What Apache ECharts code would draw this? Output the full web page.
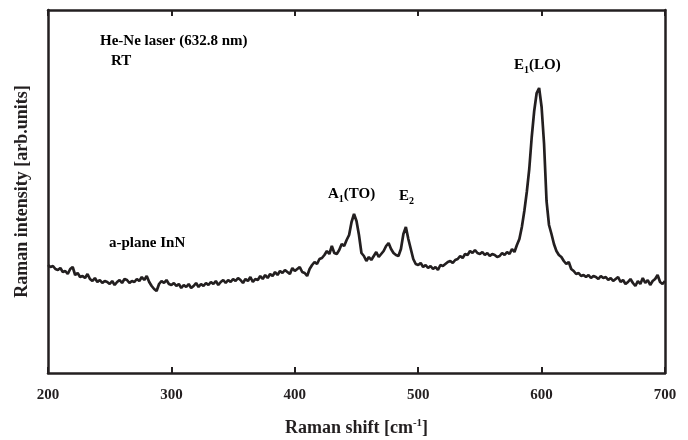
<!DOCTYPE html>
<html>
<head>
<meta charset="utf-8">
<script src="https://cdn.jsdelivr.net/npm/echarts@6/dist/echarts.min.js"></script>
<style>
  html, body { margin: 0; padding: 0; background: #fff; }
  #chart { width: 688px; height: 440px; }
</style>
</head>
<body>
<div id="chart"></div>
<script>
// Raman shift (cm-1), every 2 cm-1
const shift = [
  200, 202, 204, 206, 208, 210, 212, 214, 216, 218,
  220, 222, 224, 226, 228, 230, 232, 234, 236, 238,
  240, 242, 244, 246, 248, 250, 252, 254, 256, 258,
  260, 262, 264, 266, 268, 270, 272, 274, 276, 278,
  280, 282, 284, 286, 288, 290, 292, 294, 296, 298,
  300, 302, 304, 306, 308, 310, 312, 314, 316, 318,
  320, 322, 324, 326, 328, 330, 332, 334, 336, 338,
  340, 342, 344, 346, 348, 350, 352, 354, 356, 358,
  360, 362, 364, 366, 368, 370, 372, 374, 376, 378,
  380, 382, 384, 386, 388, 390, 392, 394, 396, 398,
  400, 402, 404, 406, 408, 410, 412, 414, 416, 418,
  420, 422, 424, 426, 428, 430, 432, 434, 436, 438,
  440, 442, 444, 446, 448, 450, 452, 454, 456, 458,
  460, 462, 464, 466, 468, 470, 472, 474, 476, 478,
  480, 482, 484, 486, 488, 490, 492, 494, 496, 498,
  500, 502, 504, 506, 508, 510, 512, 514, 516, 518,
  520, 522, 524, 526, 528, 530, 532, 534, 536, 538,
  540, 542, 544, 546, 548, 550, 552, 554, 556, 558,
  560, 562, 564, 566, 568, 570, 572, 574, 576, 578,
  580, 582, 584, 586, 588, 590, 592, 594, 596, 598,
  600, 602, 604, 606, 608, 610, 612, 614, 616, 618,
  620, 622, 624, 626, 628, 630, 632, 634, 636, 638,
  640, 642, 644, 646, 648, 650, 652, 654, 656, 658,
  660, 662, 664, 666, 668, 670, 672, 674, 676, 678,
  680, 682, 684, 686, 688, 690, 692, 694, 696, 698,
  700
]

// intensity, arbitrary units
const intensity = [
  108, 106, 107, 104, 103, 105, 101, 102, 99, 104,
  106, 98, 100, 96, 97, 95, 99, 94, 92, 95,
  91, 93, 90, 92, 91, 89, 92, 88, 91, 93,
  90, 94, 93, 90, 92, 91, 94, 92, 96, 93,
  97, 91, 87, 84, 82, 89, 92, 90, 93, 89,
  88, 90, 87, 89, 85, 88, 86, 89, 85, 87,
  90, 86, 89, 87, 90, 88, 91, 89, 92, 88,
  91, 93, 90, 93, 91, 94, 92, 95, 93, 90,
  94, 92, 96, 91, 94, 93, 97, 94, 98, 95,
  99, 97, 101, 98, 102, 100, 103, 101, 99, 105,
  102, 104, 106, 101, 100, 97, 104, 108, 111, 109,
  114, 115, 118, 122, 119, 127, 120, 119, 123, 129,
  127, 133, 138, 151, 159, 152, 138, 120, 117, 112,
  116, 113, 117, 121, 116, 119, 122, 127, 130, 124,
  120, 118, 117, 124, 139, 146, 134, 124, 114, 109,
  108, 110, 106, 108, 105, 107, 104, 106, 103, 108,
  107, 109, 111, 112, 110, 113, 114, 117, 115, 119,
  118, 122, 120, 123, 120, 119, 121, 118, 120, 117,
  119, 118, 116, 117, 120, 118, 121, 119, 124, 121,
  128, 134, 146, 162, 181, 204, 236, 262, 280, 285,
  266, 229, 172, 148, 139, 129, 122, 118, 116, 112,
  109, 111, 104, 102, 99, 100, 97, 98, 96, 98,
  95, 97, 96, 94, 97, 95, 96, 93, 95, 92,
  94, 96, 91, 93, 89, 91, 94, 90, 87, 92,
  89, 95, 90, 93, 88, 92, 94, 98, 91, 89,
  92
]

const xTicks = [200, 300, 400, 500, 600, 700]

const INK = '#231f20'
const SERIF = '"Liberation Serif", "DejaVu Serif", serif'

const chart = echarts.init(document.getElementById('chart'), null, { renderer: 'canvas' })

const baseText = { fontFamily: SERIF, fontWeight: 'bold', fontSize: 15, color: INK }
const rich = {
  b: { fontFamily: SERIF, fontWeight: 'bold', fontSize: 15, color: INK, lineHeight: 18 },
  sub: { fontFamily: SERIF, fontWeight: 'bold', fontSize: 10, color: INK, lineHeight: 18, padding: [9, 0, 0, 0] },
}

function label(x, y, text) {
  return { type: 'text', left: x, top: y, style: { text, rich, ...baseText } }
}

chart.setOption({
  animation: false,
  grid: { left: 48, right: 23, top: 10, bottom: 67, outerBoundsMode: 'none' },
  xAxis: [
    {
      type: 'value',
      min: 200,
      max: 700,
      interval: 100,
      axisLine: { onZero: false, lineStyle: { color: INK, width: 2.5 } },
      axisTick: { inside: true, length: 6, lineStyle: { color: INK, width: 2 } },
      axisLabel: {
        margin: 15,
        fontFamily: SERIF, fontWeight: 'bold', fontSize: 15, color: INK,
        formatter: v => (xTicks.includes(v) ? String(v) : ''),
      },
      splitLine: { show: false },
      name: '{b|Raman shift [cm}{sup|-1}{b|]}',
      nameLocation: 'middle',
      nameGap: 45,
      nameTextStyle: {
        rich: {
          b: { fontFamily: SERIF, fontWeight: 'bold', fontSize: 18, color: INK, lineHeight: 20 },
          sup: { fontFamily: SERIF, fontWeight: 'bold', fontSize: 11, color: INK, lineHeight: 20, padding: [0, 0, 10, 0] },
        },
      },
    },
    {
      type: 'value',
      position: 'top',
      min: 200,
      max: 700,
      interval: 100,
      axisLine: { onZero: false, lineStyle: { color: INK, width: 2.5 } },
      axisTick: { inside: true, length: 6, lineStyle: { color: INK, width: 2 } },
      axisLabel: { show: false },
      splitLine: { show: false },
    },
  ],
  yAxis: [
    {
      type: 'value',
      min: 0,
      max: 363,
      axisLine: { show: true, onZero: false, lineStyle: { color: INK, width: 2.5 } },
      axisTick: { show: false },
      axisLabel: { show: false },
      splitLine: { show: false },
      name: 'Raman intensity [arb.units]',
      nameLocation: 'middle',
      nameGap: 17,
      nameTextStyle: { fontFamily: SERIF, fontWeight: 'bold', fontSize: 18, color: INK },
    },
    {
      type: 'value',
      position: 'right',
      min: 0,
      max: 363,
      axisLine: { show: true, onZero: false, lineStyle: { color: INK, width: 2.5 } },
      axisTick: { show: false },
      axisLabel: { show: false },
      splitLine: { show: false },
    },
  ],
  series: [
    {
      type: 'line',
      data: shift.map((x, i) => [x, intensity[i]]),
      showSymbol: false,
      smooth: false,
      lineStyle: { color: INK, width: 2.7 },
    },
  ],
  graphic: [
    label(100, 34, '{b|He-Ne laser (632.8 nm)}'),
    label(111, 54, '{b|RT}'),
    label(109, 236, '{b|a-plane InN}'),
    label(328, 185, '{b|A}{sub|1}{b|(TO)}'),
    label(399, 187, '{b|E}{sub|2}'),
    label(514, 56, '{b|E}{sub|1}{b|(LO)}'),
  ],
})
</script>
</body>
</html>
